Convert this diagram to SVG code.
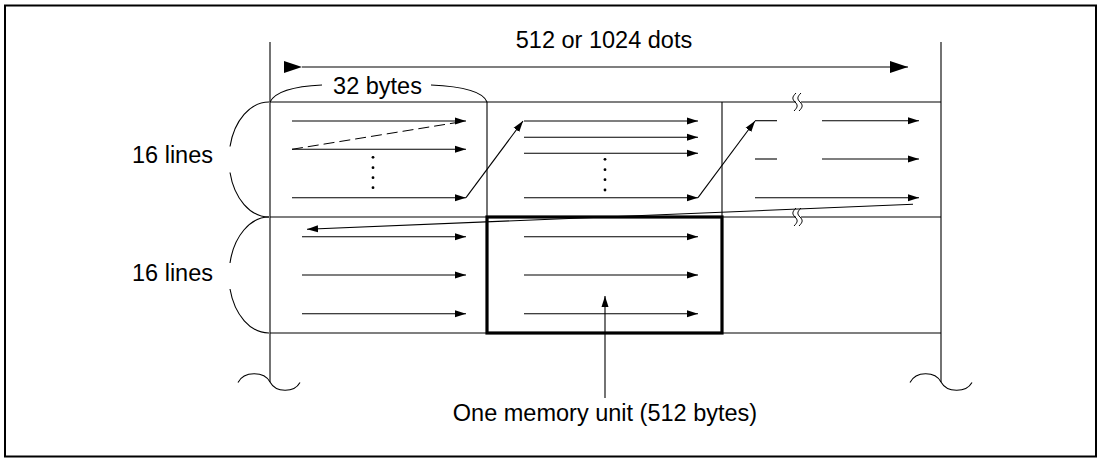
<svg xmlns="http://www.w3.org/2000/svg" width="1103" height="459" viewBox="0 0 1103 459">
<style>
.ln{stroke:#000;stroke-width:1.1;fill:none}
.th{stroke:#000;stroke-width:1;fill:none}
.bd{stroke:#000;stroke-width:3.2;fill:none}
.ar{stroke:#000;stroke-width:1.1;fill:none;marker-end:url(#ah)}
.tx{font-family:"Liberation Sans",Arial,sans-serif;font-size:23.5px;fill:#000}
.dot{fill:#000}
</style>
<defs>
<marker id="ah" markerUnits="userSpaceOnUse" markerWidth="11" markerHeight="8" refX="11" refY="4" orient="auto"><path d="M0,0.5 L11,4 L0,7.5 z" fill="#000"/></marker>
<marker id="ahb" markerUnits="userSpaceOnUse" markerWidth="18" markerHeight="12" refX="18" refY="6" orient="auto"><path d="M0,0 L18,6 L0,12 z" fill="#000"/></marker>
</defs>
<rect x="5" y="5.5" width="1091" height="451" fill="none" stroke="#000" stroke-width="2"/>

<g id="frame">
<line class="ln" x1="270" y1="42" x2="270" y2="382"/>
<line class="ln" x1="941" y1="42" x2="941" y2="382"/>
<path class="ln" d="M238,382.5 C244,371 264,371 270,382 C276,393 294,393 300,382.5"/>
<path class="ln" d="M910,382.5 C916,371 935,371 941,382 C947,393 966,393 972,382.5"/>
</g>

<g id="grid">
<line class="ln" x1="270" y1="102" x2="941" y2="102"/>
<line class="ln" x1="270" y1="217" x2="941" y2="217"/>
<line class="ln" x1="270" y1="333" x2="941" y2="333"/>
<line class="ln" x1="487" y1="102" x2="487" y2="333"/>
<line class="ln" x1="722" y1="102" x2="722" y2="333"/>
<rect x="796" y="94" width="5" height="17" fill="#fff"/>
<rect x="796" y="209" width="5" height="17" fill="#fff"/>
<path class="th" d="M796,93 C792,97 792,99 795,102 C798,105 798,107 794,111"/>
<path class="th" d="M801,93 C797,97 797,99 800,102 C803,105 803,107 799,111"/>
<path class="th" d="M796,208 C792,212 792,214 795,217 C798,220 798,222 794,226"/>
<path class="th" d="M801,208 C797,212 797,214 800,217 C803,220 803,222 799,226"/>
</g>

<g id="memory-unit">
<rect class="bd" x="487" y="217" width="235" height="116"/>
</g>

<g id="labels">
<text class="tx" x="604" y="48" text-anchor="middle">512 or 1024 dots</text>
<text class="tx" x="377.5" y="94" text-anchor="middle">32 bytes</text>
<text class="tx" x="132" y="163">16 lines</text>
<text class="tx" x="132" y="281">16 lines</text>
<text class="tx" x="605" y="421" text-anchor="middle">One memory unit (512 bytes)</text>
</g>

<g id="braces">
<path class="ln" d="M270,102 C276,90 300,86 322,85"/>
<path class="ln" d="M431,85 C455,86 482,89 487,102"/>
<path class="ln" d="M269,102 A40,57.5 0 0 0 230,146.5"/>
<path class="ln" d="M230,172.5 A40,57.5 0 0 0 269,217"/>
<path class="ln" d="M269,217 A40,58 0 0 0 230,263"/>
<path class="ln" d="M230,289 A40,58 0 0 0 269,333"/>
</g>

<g id="dots">
<circle class="dot" cx="373" cy="157.3" r="1.4"/>
<circle class="dot" cx="373" cy="167.7" r="1.4"/>
<circle class="dot" cx="373" cy="177.7" r="1.4"/>
<circle class="dot" cx="373" cy="187.7" r="1.4"/>
<circle class="dot" cx="605" cy="159.3" r="1.4"/>
<circle class="dot" cx="605" cy="169.7" r="1.4"/>
<circle class="dot" cx="605" cy="179.7" r="1.4"/>
<circle class="dot" cx="605" cy="190" r="1.4"/>
</g>

<g id="connectors">
<line class="ln" x1="302" y1="67" x2="908" y2="67" marker-start="url(#ahb)" marker-end="url(#ahb)"/>
<line class="ar" x1="292" y1="121" x2="466" y2="121"/>
<line class="ar" x1="292" y1="149.3" x2="466" y2="149.3"/>
<line class="ar" x1="292" y1="197.7" x2="466" y2="197.7"/>
<line class="th" x1="292" y1="149.3" x2="460" y2="122" stroke-dasharray="11,5"/>
<line class="ar" x1="466" y1="197.7" x2="523" y2="121"/>
<line class="ar" x1="524" y1="121" x2="698" y2="121"/>
<line class="ar" x1="524" y1="137.3" x2="698" y2="137.3"/>
<line class="ar" x1="524" y1="153.3" x2="698" y2="153.3"/>
<line class="ar" x1="524" y1="197.7" x2="698" y2="197.7"/>
<line class="ar" x1="698" y1="197.7" x2="755" y2="121"/>
<line class="ln" x1="755" y1="120.7" x2="777" y2="120.7"/>
<line class="ar" x1="822" y1="120.7" x2="919" y2="120.7"/>
<line class="ln" x1="755" y1="159" x2="777" y2="159"/>
<line class="ar" x1="822" y1="159" x2="919" y2="159"/>
<line class="ar" x1="755" y1="197.7" x2="919" y2="197.7"/>
<line class="ar" x1="913" y1="204.3" x2="307" y2="229.3"/>
<line class="ar" x1="302" y1="236.7" x2="466" y2="236.7"/>
<line class="ar" x1="302" y1="275" x2="466" y2="275"/>
<line class="ar" x1="302" y1="313.7" x2="466" y2="313.7"/>
<line class="ar" x1="524" y1="236.7" x2="698" y2="236.7"/>
<line class="ar" x1="524" y1="275" x2="698" y2="275"/>
<line class="ar" x1="524" y1="313.7" x2="698" y2="313.7"/>
<line class="ar" x1="605" y1="398" x2="605" y2="296"/>
</g>
</svg>
